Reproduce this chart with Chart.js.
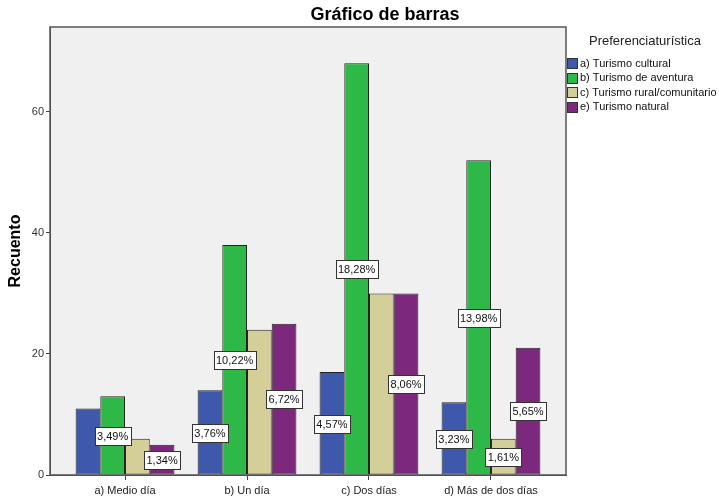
<!DOCTYPE html>
<html>
<head>
<meta charset="utf-8">
<script src="https://cdn.jsdelivr.net/npm/chart.js@4/dist/chart.umd.min.js"></script>
<style>
  html, body { margin: 0; padding: 0; background: #fff; }
  #wrap { width: 719px; height: 500px; }
</style>
</head>
<body>
<div id="wrap"><canvas id="chart" width="719" height="500"></canvas></div>
<script>
// ======== Datos ========
const categories = ['a) Medio día', 'b) Un día', 'c) Dos días', 'd) Más de dos días'];
const seriesNames = ['a) Turismo cultural', 'b) Turismo de aventura', 'c) Turismo rural/comunitario', 'e) Turismo natural'];
const cultural = [11, 14, 17, 12];
const aventura = [13, 38, 68, 52];
const rural = [6, 24, 30, 6];
const natural = [5, 25, 30, 21];
const yTicks = [0, 20, 40, 60];

// etiquetas de porcentaje visibles (SPSS oculta las que se solapan)
const showCultural = [false, true, true, true];
const showAventura = [true, true, true, true];
const showRural = [false, false, false, true];
const showNatural = [true, true, true, true];

const colors = ['#3E58AC', '#2EB848', '#D4CE99', '#7C287C'];
const FONT = '"Liberation Sans", Arial, sans-serif';

const series = [cultural, aventura, rural, natural];
const shown = [showCultural, showAventura, showRural, showNatural];
const total = series.flat().reduce((a, b) => a + b, 0);

const datasets = series.map((vals, i) => ({
  label: seriesNames[i],
  data: vals.map((v, j) => ({ x: j, y: v })),
  backgroundColor: colors[i],
  borderColor: '#222',
  borderWidth: 1,
  borderSkipped: false,
  categoryPercentage: 0.81,
  barPercentage: 1.0,
}));

// ======== Plugin: fondo, marco, etiquetas, titulo y leyenda ========
const spssLook = {
  id: 'spssLook',
  beforeDraw(chart) {
    const { ctx, chartArea: a } = chart;
    ctx.save();
    ctx.fillStyle = '#fff';
    ctx.fillRect(0, 0, chart.width, chart.height);
    ctx.fillStyle = '#F0F0F0';
    ctx.fillRect(a.left, a.top, a.right - a.left, a.bottom - a.top);
    ctx.restore();
  },
  afterDatasetsDraw(chart) {
    const { ctx, chartArea: a } = chart;
    const yScale = chart.scales.y;
    ctx.save();
    // marco
    ctx.strokeStyle = '#555';
    ctx.lineWidth = 1.5;
    ctx.strokeRect(a.left, a.top, a.right - a.left, a.bottom - a.top);

    // porcentajes
    ctx.font = '11px ' + FONT;
    ctx.textAlign = 'center';
    ctx.textBaseline = 'middle';
    series.forEach((vals, i) => {
      const meta = chart.getDatasetMeta(i);
      vals.forEach((v, j) => {
        if (!shown[i][j]) return;
        const txt = (v / total * 100).toFixed(2).replace('.', ',') + '%';
        const w = Math.round(ctx.measureText(txt).width + 5);
        const h = 18;
        const x = meta.data[j].x;
        const y = yScale.getPixelForValue(v / 2);
        const bx = Math.round(x - w / 2) + 0.5, by = Math.round(y - h / 2) + 0.5;
        ctx.fillStyle = '#fff';
        ctx.fillRect(bx, by, w, h);
        ctx.strokeStyle = '#333';
        ctx.lineWidth = 1;
        ctx.strokeRect(bx, by, w, h);
        ctx.fillStyle = '#111';
        ctx.fillText(txt, x, y + 1);
      });
    });
    ctx.restore();
  },
  afterDraw(chart) {
    const { ctx } = chart;
    ctx.save();
    // titulo
    ctx.fillStyle = '#000';
    ctx.font = 'bold 18px ' + FONT;
    ctx.textAlign = 'center';
    ctx.textBaseline = 'middle';
    ctx.fillText('Gráfico de barras', 385, 15);

    // leyenda
    ctx.textAlign = 'left';
    ctx.font = '13px ' + FONT;
    ctx.fillStyle = '#222';
    ctx.fillText('Preferenciaturística', 589, 41);
    ctx.font = '11px ' + FONT;
    seriesNames.forEach((name, i) => {
      const top = 58 + i * 14.5;
      ctx.fillStyle = colors[i];
      ctx.fillRect(567, Math.round(top), 10, 10);
      ctx.strokeStyle = '#333';
      ctx.lineWidth = 1;
      ctx.strokeRect(567.5, Math.round(top) + 0.5, 10, 10);
      ctx.fillStyle = '#111';
      ctx.fillText(name, 580, top + 5.5);
    });
    ctx.restore();
  },
};

// ======== Grafico ========
const chart = new Chart(document.getElementById('chart').getContext('2d'), {
  type: 'bar',
  data: { datasets },
  options: {
    responsive: false,
    animation: false,
    devicePixelRatio: 1,
    layout: { padding: { top: 27, right: 153, left: 0, bottom: 0 } },
    plugins: { legend: { display: false }, tooltip: { enabled: false }, title: { display: false } },
    scales: {
      x: {
        type: 'linear',
        offset: false,
        min: -0.615,
        max: 3.615,
        afterBuildTicks: (s) => { s.ticks = categories.map((c, i) => ({ value: i })); },
        afterFit: (s) => { s.height = 25; },
        ticks: {
          callback: (v) => categories[v],
          font: { family: FONT, size: 11 },
          color: '#222',
          padding: 4,
          autoSkip: false,
          maxRotation: 0,
        },
        grid: { offset: false, drawOnChartArea: false, drawTicks: true, tickLength: 5, color: '#444' },
        border: { display: true, color: '#444' },
      },
      y: {
        min: 0,
        max: 74,
        afterBuildTicks: (s) => { s.ticks = yTicks.map(v => ({ value: v })); },
        afterFit: (s) => { s.width = 50; },
        ticks: {
          font: { family: FONT, size: 11 },
          color: '#333',
          padding: 2,
        },
        title: {
          display: true,
          text: 'Recuento',
          font: { family: FONT, size: 16, weight: 'bold' },
          color: '#000',
          padding: { top: 6, bottom: 0 },
        },
        grid: { drawOnChartArea: false, drawTicks: true, tickLength: 4, color: '#444' },
        border: { display: true, color: '#444' },
      },
    },
  },
  plugins: [spssLook],
});
</script>
</body>
</html>
